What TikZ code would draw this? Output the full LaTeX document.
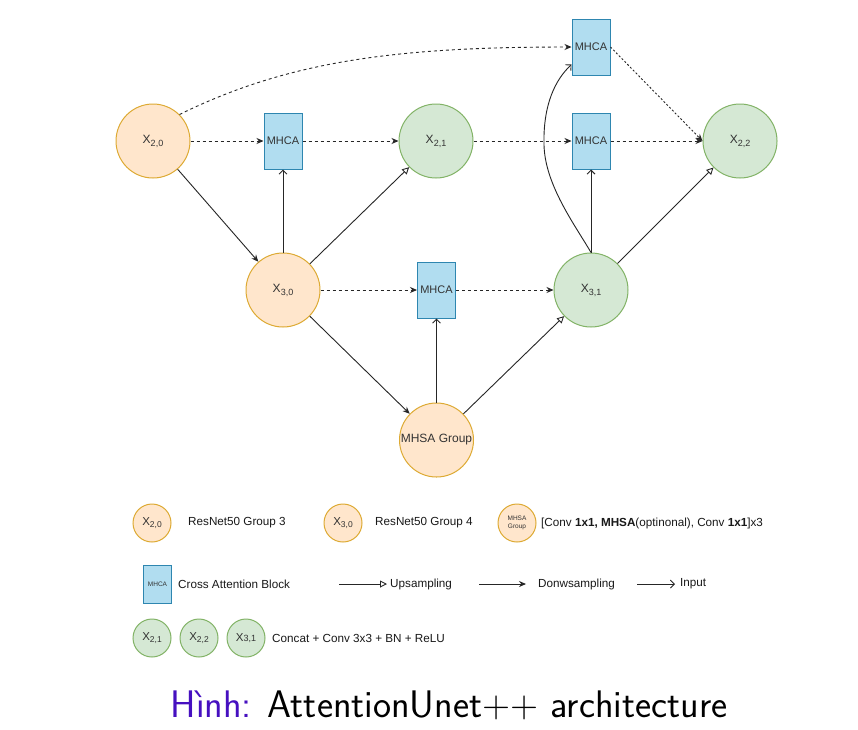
\documentclass[tikz,border=0pt]{standalone}
\usepackage{fontspec}
\setmainfont{Liberation Sans}
\usetikzlibrary{arrows.meta}
\definecolor{orFill}{HTML}{FFE6CC}
\definecolor{orStroke}{HTML}{DDAA33}
\definecolor{grFill}{HTML}{D5E8D4}
\definecolor{grStroke}{HTML}{82B366}
\definecolor{blFill}{HTML}{B1DDF0}
\definecolor{blStroke}{HTML}{2E86B0}
\definecolor{txt}{HTML}{333333}
\definecolor{capc}{RGB}{70,16,192}
\newcommand\xsub[3]{X\raisebox{-#3pt}{\fontsize{#2}{#2}\selectfont #1}}
\tikzset{
  basecirc/.style={circle, inner sep=0pt, line width=1pt, text=txt},
  orn/.style={basecirc, draw=orStroke, fill=orFill, minimum size=74pt, font=\fontsize{12}{12}\selectfont},
  grn/.style={basecirc, draw=grStroke, fill=grFill, minimum size=74pt, font=\fontsize{12}{12}\selectfont},
  mh/.style={rectangle, draw=blStroke, fill=blFill, line width=1pt, minimum width=38pt, minimum height=56pt, inner sep=0pt, text=txt, font=\fontsize{11}{11}\selectfont},
  sorn/.style={basecirc, draw=orStroke, fill=orFill, minimum size=38pt, font=\fontsize{11.5}{11.5}\selectfont},
  sgrn/.style={basecirc, draw=grStroke, fill=grFill, minimum size=38pt, font=\fontsize{11.5}{11.5}\selectfont},
  smh/.style={rectangle, draw=blStroke, fill=blFill, line width=1pt, minimum width=28pt, minimum height=38pt, inner sep=0pt, text=txt, font=\fontsize{6.5}{6.5}\selectfont},
  legtext/.style={anchor=west, inner sep=0pt, text=black!90, font=\fontsize{11.7}{13}\selectfont},
  conn/.style={line width=0.9pt, draw=black!85},
  dsh/.style={conn, dash pattern=on 3pt off 3pt, -{Stealth[length=7pt,width=6pt]}},
  dotl/.style={conn, dash pattern=on 2pt off 2pt, -{Stealth[length=7pt,width=6pt]}},
  down/.style={conn, -{Stealth[length=7pt,width=6pt]}},
  up/.style={conn, -{Triangle[open,length=7pt,width=7pt]}},
  inp/.style={conn, -{Straight Barb[length=4pt,width=8pt]}}
}
\begin{document}
\begin{tikzpicture}[x=1pt,y=-1pt]
\useasboundingbox[fill=white] (0,0) rectangle (858,729);
% main nodes
\node[orn] (x20) at (153,141) {\xsub{2,0}{9}{3}};
\node[mh] (m1) at (283,141) {MHCA};
\node[grn] (x21) at (436,141) {\xsub{2,1}{9}{3}};
\node[mh] (m2) at (591,141) {MHCA};
\node[grn] (x22) at (740,141) {\xsub{2,2}{9}{3}};
\node[mh] (mt) at (591,47) {MHCA};
\node[orn] (x30) at (283,290) {\xsub{3,0}{9}{3}};
\node[mh] (m3) at (436.5,290) {MHCA};
\node[grn] (x31) at (591,290) {\xsub{3,1}{9}{3}};
\node[orn] (mg) at (436.5,440) {MHSA Group};
\coordinate (cv) at (544,145);
% connectors
\draw[dsh] (x20) -- (m1);
\draw[dsh] (m1) -- (x21);
\draw[dsh] (x21) -- (m2);
\draw[dsh] (m2) -- (x22);
\draw[dsh] (x20.45) .. controls (290,60) and (400,47) .. (mt.west);
\draw[dotl] (mt.east) -- (x22.west);
\draw[down] (x20) -- (x30);
\draw[inp] (x30) -- (m1);
\draw[up] (x30) -- (x21);
\draw[dsh] (x30) -- (m3);
\draw[dsh] (m3) -- (x31);
\draw[down] (x30) -- (mg);
\draw[inp] (mg) -- (m3);
\draw[up] (mg) -- (x31);
\draw[inp] (x31) -- (m2);
\draw[up] (x31) -- (x22);
\draw[inp] (x31.north) .. controls (575,225) and (545,185) .. (cv) .. controls (543,105) and (555,80) .. ([yshift=11pt]mt.south west);
% legend row 1
\node[sorn] (l1) at (152,523) {\xsub{2,0}{8.5}{2.5}};
\node[legtext] (t1) at (188,523) {ResNet50 Group 3};
\node[sorn] (l2) at (343,523) {\xsub{3,0}{8.5}{2.5}};
\node[legtext] (t2) at (375,523) {ResNet50 Group 4};
\node[sorn, font=\fontsize{6.5}{7.5}\selectfont, align=center] (l3) at (517,523) {MHSA\\Group};
\node[legtext] (t3) at (541,523) {[Conv \textbf{1x1, MHSA}(optinonal), Conv \textbf{1x1}]x3};
% legend row 2
\node[smh] (l4) at (157.5,584.5) {MHCA};
\node[legtext] (t4) at (178,584) {Cross Attention Block};
\coordinate (ua) at (339,584);
\coordinate (ub) at (387,584);
\draw[up] (ua) -- (ub);
\node[legtext] (t5) at (390,584) {Upsampling};
\coordinate (da) at (479,584);
\coordinate (db) at (526,584);
\draw[down] (da) -- (db);
\node[legtext] (t6) at (538,584) {Donwsampling};
\coordinate (ia) at (637,584);
\coordinate (ib) at (675,584);
\draw[inp] (ia) -- (ib);
\node[legtext] (t7) at (680,584) {Input};
% legend row 3
\node[sgrn] (l5) at (152,638) {\xsub{2,1}{8.5}{2.5}};
\node[sgrn] (l6) at (199,638) {\xsub{2,2}{8.5}{2.5}};
\node[sgrn] (l7) at (246,638) {X{\fontsize{9}{9}\selectfont 3,1}};
\node[legtext] (t8) at (272,638) {Concat + Conv 3x3 + BN + ReLU};
% caption
\node[anchor=base, inner sep=0pt, font=\sffamily\fontsize{38.4}{38.4}\selectfont] (cap) at (449,717) {\textcolor{capc}{Hình:} AttentionUnet++ architecture};
\end{tikzpicture}
\end{document}
